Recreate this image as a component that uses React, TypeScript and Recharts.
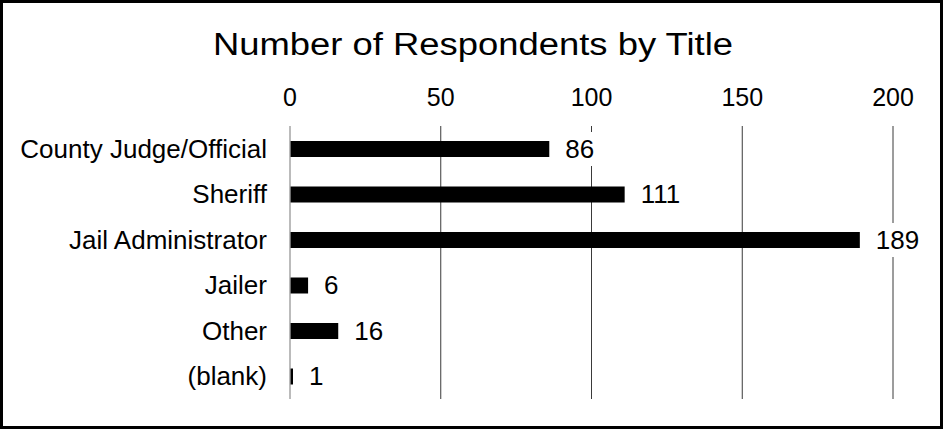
import React from 'react';
import { BarChart, Bar, XAxis, YAxis, CartesianGrid, LabelList } from 'recharts';

const titles = ['County Judge/Official', 'Sheriff', 'Jail Administrator', 'Jailer', 'Other', '(blank)'];
const respondents = [86, 111, 189, 6, 16, 1];
const xTicks = [0, 50, 100, 150, 200];

const data = titles.map((name, i) => ({ name, count: respondents[i] }));

const FONT = '"Liberation Sans", Arial, sans-serif';

const renderValueLabel = (props: any) => {
    const { x, y, width, height, value } = props;
    const tx = Number(x) + Number(width) + 16;
    const cy = Number(y) + Number(height) / 2;
    const textW = String(value).length * 14.5;
    return (
        <g>
            <rect x={tx - 6} y={cy - 17} width={textW + 12} height={34} fill="#fff" />
            <text x={tx} y={cy + 8.5} fontSize={26} fontFamily={FONT} fill="#000">
                {value}
            </text>
        </g>
    );
};

const App = () => {
    return (
        <div style={{ position: 'absolute', left: 0, top: 0, width: 943, height: 429, background: '#fff' }}>
            <BarChart
                width={943}
                height={429}
                data={data}
                layout="vertical"
                margin={{ top: 0, right: 50, bottom: 30, left: 0 }}
                barSize={16}
            >
                <CartesianGrid horizontal={false} stroke="#3a3a3a" />
                <XAxis
                    type="number"
                    orientation="top"
                    domain={[0, 200]}
                    ticks={xTicks}
                    height={126}
                    axisLine={false}
                    tickLine={false}
                    tickSize={0}
                    tickMargin={20}
                    tick={{ fill: '#000', fontSize: 25, fontFamily: FONT }}
                />
                <YAxis
                    type="category"
                    dataKey="name"
                    width={290}
                    tickLine={false}
                    tickSize={0}
                    tickMargin={23}
                    axisLine={{ stroke: '#d9d9d9' }}
                    tick={{ fill: '#000', fontSize: 26, fontFamily: FONT }}
                />
                <Bar dataKey="count" fill="#000" isAnimationActive={false}>
                    <LabelList dataKey="count" content={renderValueLabel} />
                </Bar>
            </BarChart>
            <svg width={943} height={429} style={{ position: 'absolute', left: 0, top: 0, pointerEvents: 'none' }}>
                <text
                    x={473}
                    y={55}
                    textAnchor="middle"
                    fontSize={31}
                    fontFamily={FONT}
                    fill="#000"
                    textLength={520}
                    lengthAdjust="spacingAndGlyphs"
                >
                    Number of Respondents by Title
                </text>
            </svg>
            <div
                style={{
                    position: 'absolute',
                    left: 0,
                    top: 0,
                    width: 943,
                    height: 429,
                    boxSizing: 'border-box',
                    border: '3px solid #000',
                    pointerEvents: 'none',
                }}
            />
        </div>
    );
};

export default App;
